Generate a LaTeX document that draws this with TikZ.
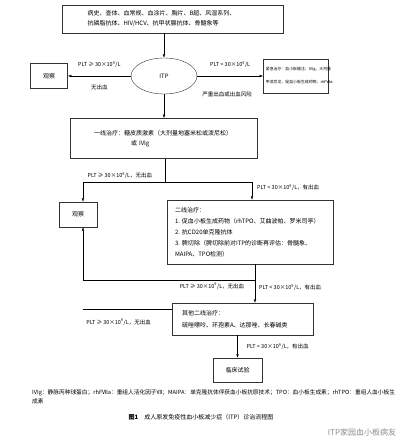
\documentclass[tikz,border=0pt]{standalone}
\usepackage{fontspec}
\setmainfont{Noto Sans CJK SC}
\usetikzlibrary{positioning,shapes.geometric,arrows.meta}

\begin{document}
\begin{tikzpicture}[x=1pt, y=-1pt,
font=\fontsize{6}{10}\selectfont,
>={Latex[length=3.5pt,width=2.6pt]},
squarednode/.style={rectangle, draw=black!80, thin, fill=white, inner sep=0pt, align=left},
roundnode/.style={ellipse, draw=black!80, thin, inner sep=0pt, minimum width=66pt, minimum height=36pt},
lbl/.style={inner sep=1pt, font=\fontsize{5.5}{7}\selectfont},
]
\useasboundingbox[fill=white] (0,0) rectangle (400,443);

%Nodes
\node[squarednode, minimum width=221pt, minimum height=28pt, text width=170pt] (exam) at (172.5,19)
  {病史、查体、血常规、血涂片、胸片、B超、风湿系列、\\抗磷脂抗体、HIV/HCV、抗甲状腺抗体、骨髓象等};
\node[roundnode]   (ITP)                        at (164,76) {ITP};
\node[squarednode, minimum width=37pt, minimum height=25pt, align=center] (obs1) [left=63pt of ITP]  {观察};
\node[squarednode, minimum width=65pt, minimum height=34pt, text width=60pt,
      font=\fontsize{3.9}{13}\selectfont] (emerg) [right=66pt of ITP]
  {紧急治疗：血小板输注、IVIg、大剂量\\甲泼尼龙、促血小板生成药物、rhFⅦa};
\node[squarednode, minimum width=187pt, minimum height=40pt, text width=140pt] (first) [below=24pt of ITP]
  {一线治疗：糖皮质激素（大剂量地塞米松或泼尼松）\\\hspace*{37pt}或 IVIg};
\node[squarednode, minimum width=38pt, minimum height=25pt, align=center] (obs2) at (78,214.5) {观察};
\node[squarednode, minimum width=166pt, minimum height=64pt, text width=150pt,
      font=\fontsize{6}{11}\selectfont] (second) at (250,232)
  {二线治疗：\\1.~促血小板生成药物（rhTPO、艾曲波帕、罗米司亭）\\2.~抗CD20单克隆抗体\\3.~脾切除（脾切除前对ITP的诊断再评估：骨髓象、\\MAIPA、TPO检测）};
\node[squarednode, minimum width=141pt, minimum height=32pt, text width=121pt,
      font=\fontsize{6}{12}\selectfont] (other) at (242.5,319)
  {其他二线治疗：\\硫唑嘌呤、环孢素A、达那唑、长春碱类};
\node[squarednode, minimum width=49pt, minimum height=24pt, align=center] (clin) at (237.5,370) {临床试验};

%Joints
\coordinate (s1)  at (165,182);
\coordinate (s1l) at (83,182);
\coordinate (s1r) at (252,182);
\coordinate (s2)  at (255,280);
\coordinate (s2l) at (83,280);
\coordinate (s3)  at (83,309);

%Lines
\draw[->] (exam.south -| ITP.north) -- (ITP.north);
\draw[->] (ITP.west) -- node[lbl, above=7pt] (l1) {PLT ≥ 30×10\textsuperscript{9}/L} node[lbl, below=8pt] (l2) {无出血} (obs1.east);
\draw[->] (ITP.east) -- node[lbl, above=7pt] (l3) {PLT < 30×10\textsuperscript{9}/L} node[lbl, below=15pt, xshift=-3pt] (l4) {严重出血或出血风险} (emerg.west);
\draw[->] (ITP.south) -- (first.north);
\draw (first.south -| s1) -- (s1);
\draw[->] (s1) -- node[lbl, above=2pt, pos=0.55] (l5) {PLT ≥ 30×10\textsuperscript{9}/L，无出血} (s1l) -- (s1l |- obs2.north);
\draw[->] (s1) -- (s1r) -- node[lbl, right=4pt, pos=0.3] (l6) {PLT < 30×10\textsuperscript{9}/L，有出血} (s1r |- second.north);
\draw (second.south -| s2) -- (s2);
\draw[->] (s2) -- node[lbl, right=3pt, pos=0.35] (l8) {PLT < 30×10\textsuperscript{9}/L，有出血} (s2 |- other.north);
\draw[->] (s2) -- node[lbl, below=2pt, pos=0.25] (l7) {PLT ≥ 30×10\textsuperscript{9}/L，无出血} (s2l) -- (s2l |- obs2.south);
\draw (other.west |- s3) -- node[lbl, below=9pt, pos=0.6] (l9) {PLT ≥ 30×10\textsuperscript{9}/L，无出血} (s3);
\draw[->] (clin.north |- other.south) -- node[lbl, right=8pt] (l10) {PLT < 30×10\textsuperscript{9}/L，有出血} (clin.north);

%Notes
\node[anchor=north west, inner sep=0pt, align=left, font=\fontsize{5.7}{9}\selectfont] (note) at (32,389)
  {IVIg：静脉丙种球蛋白；rhFⅦa：重组人活化因子Ⅶ；MAIPA：单克隆抗体俘获血小板抗原技术；TPO：血小板生成素；rhTPO：重组人血小板生\\成素};
\node[inner sep=0pt, font=\fontsize{6}{8}\selectfont] (caption) at (201,417)
  {\textbf{图1}\quad 成人原发免疫性血小板减少症（ITP）诊治流程图};
\node[inner sep=0pt, text=black!45, font=\fontsize{8}{8}\selectfont] (mark) at (362,432) {ITP家园血小板病友};
\end{tikzpicture}
\end{document}
